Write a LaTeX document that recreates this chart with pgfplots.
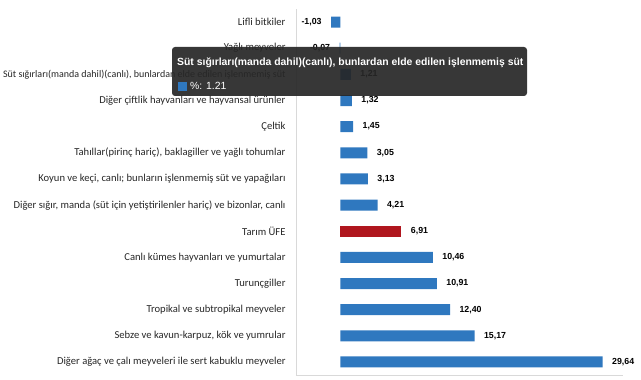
\documentclass[border=0pt]{standalone}
\usepackage{pgfplots}
\pgfplotsset{compat=1.18}
\usepackage{fontspec}
\setmainfont{Carlito}
\newfontfamily\valfont{Liberation Sans}
\definecolor{barblue}{HTML}{2F78BF}
\definecolor{barred}{HTML}{B0161E}
\definecolor{tipbg}{HTML}{262626}
\definecolor{axgray}{HTML}{D9D9D9}
\begin{document}
\begin{tikzpicture}[x=1pt,y=1pt]
\begin{scope}
\clip (0,0) rectangle (641,380);
\begin{axis}[
  at={(296pt,5pt)}, anchor=south west, scale only axis,
  width=327.5pt, height=366pt,
  xmin=-5, xmax=32, ymin=-0.5, ymax=13.5, y dir=reverse,
  axis x line*=bottom, axis y line*=left,
  axis line style={axgray},
  xtick=\empty, ytick={0,...,13},
  yticklabels={
    {Lifli bitkiler},
    {Yağlı meyveler},
    {\fontsize{10}{12}\selectfont Süt sığırları(manda dahil)(canlı), bunlardan elde edilen işlenmemiş süt},
    {Diğer çiftlik hayvanları ve hayvansal ürünler},
    {Çeltik},
    {Tahıllar(pirinç hariç), baklagiller ve yağlı tohumlar},
    {Koyun ve keçi, canlı; bunların işlenmemiş süt ve yapağıları},
    {Diğer sığır, manda (süt için yetiştirilenler hariç) ve bizonlar, canlı},
    {Tarım ÜFE},
    {Canlı kümes hayvanları ve yumurtalar},
    {Turunçgiller},
    {Tropikal ve subtropikal meyveler},
    {Sebze ve kavun-karpuz, kök ve yumrular},
    {Diğer ağaç ve çalı meyveleri ile sert kabuklu meyveler}},
  major tick length=0pt,
  yticklabel style={font=\fontsize{10.6}{12}\selectfont, xshift=-7pt, text=black!85},
  xbar, bar width=11pt, bar shift=0pt,
  nodes near coords={\pgfmathprintnumber[assume math mode=true,use comma,fixed,fixed zerofill,precision=2]{\pgfplotspointmeta}},
  nodes near coords style={font=\valfont\bfseries\fontsize{8.8}{10}\selectfont, text=black},
]
\addplot[draw=none, fill=barblue, nodes near coords style={anchor=east, xshift=-6pt}]
  coordinates {(-1.03,0) (-0.07,1)};
\addplot[draw=none, fill=barblue, nodes near coords style={anchor=west, xshift=6pt}]
  coordinates {(1.21,2) (1.32,3) (1.45,4) (3.05,5) (3.13,6) (4.21,7)
               (10.46,9) (10.91,10) (12.40,11) (15.17,12) (29.64,13)};
\addplot[draw=none, fill=barred, nodes near coords style={anchor=west, xshift=6pt}]
  coordinates {(6.91,8)};
\end{axis}
\end{scope}
\fill[tipbg, opacity=0.92, rounded corners=3pt] (172,284) rectangle (527,333);
\node[anchor=base west, inner sep=0pt, text=white, font=\valfont\bfseries\fontsize{10.4}{12}\selectfont] at (177,314) {Süt sığırları(manda dahil)(canlı), bunlardan elde edilen işlenmemiş süt};
\fill[barblue] (178,289) rectangle (187,298);
\node[anchor=base west, inner sep=0pt, text=white, font=\valfont\fontsize{10.4}{12}\selectfont] at (190,290) {\%: 1.21};
\pgfresetboundingbox
\useasboundingbox (0,0) rectangle (641,380);
\end{tikzpicture}
\end{document}
